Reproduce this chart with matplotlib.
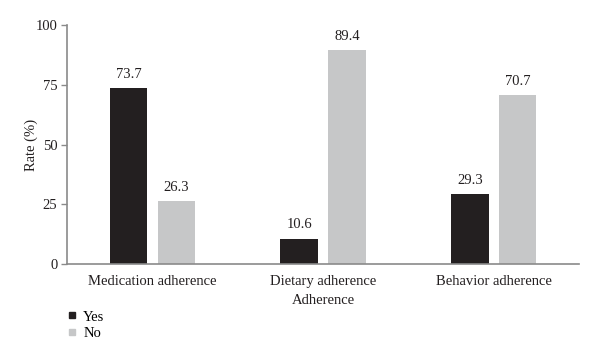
import matplotlib.pyplot as plt
import numpy as np

categories = ["Medication adherence", "Dietary adherence", "Behavior adherence"]
yes_rates = [73.7, 10.6, 29.3]
no_rates = [26.3, 89.4, 70.7]
yticks = [0, 25, 50, 75, 100]

plt.rcParams["font.family"] = ["Liberation Serif", "DejaVu Serif"]

fig = plt.figure(figsize=(6, 3.58), dpi=100)
ax = fig.add_axes([0.112, 0.2626, 0.853, 0.6674])

x = np.arange(len(categories))
width = 0.22
off = 0.14
yes_color = "#231f20"
no_color = "#c6c7c8"

b1 = ax.bar(x - off, yes_rates, width, color=yes_color, label="Yes")
b2 = ax.bar(x + off, no_rates, width, color=no_color, label="No")

for bars, vals in ((b1, yes_rates), (b2, no_rates)):
    for rect, v in zip(bars, vals):
        ax.text(rect.get_x() + rect.get_width() / 2, v + 3, f"{v:.1f}",
                ha="center", va="bottom", fontsize=10.5, color="#231f20")

ax.set_xlim(-0.5, 2.5)
ax.set_ylim(0, 100)
ax.set_yticks(yticks)
ax.set_xticks(x)
ax.set_xticklabels(categories, fontsize=10.5, color="#231f20")
ax.tick_params(axis="x", length=0, pad=8)
ax.tick_params(axis="y", length=4, width=1, color="#8a8a8a", labelsize=10.5,
               labelcolor="#231f20", pad=3)

for s in ["top", "right"]:
    ax.spines[s].set_visible(False)
for s in ["left", "bottom"]:
    ax.spines[s].set_color("#8a8a8a")
    ax.spines[s].set_linewidth(1.2)

ax.set_xlabel("Adherence", fontsize=10.5, color="#231f20", labelpad=4)
ax.set_ylabel("Rate (%)", fontsize=10.5, color="#231f20", labelpad=-2)

handles = [
    plt.Line2D([], [], marker="s", linestyle="", color=yes_color, markersize=5),
    plt.Line2D([], [], marker="s", linestyle="", color=no_color, markersize=5),
]
fig.legend(handles, ["Yes", "No"], loc="upper left",
           bbox_to_anchor=(0.112, 0.133), frameon=False, fontsize=10.5,
           handlelength=0.6, handletextpad=0.5, labelspacing=0.2,
           borderaxespad=0, borderpad=0)

fig.savefig("out.png", dpi=100)
